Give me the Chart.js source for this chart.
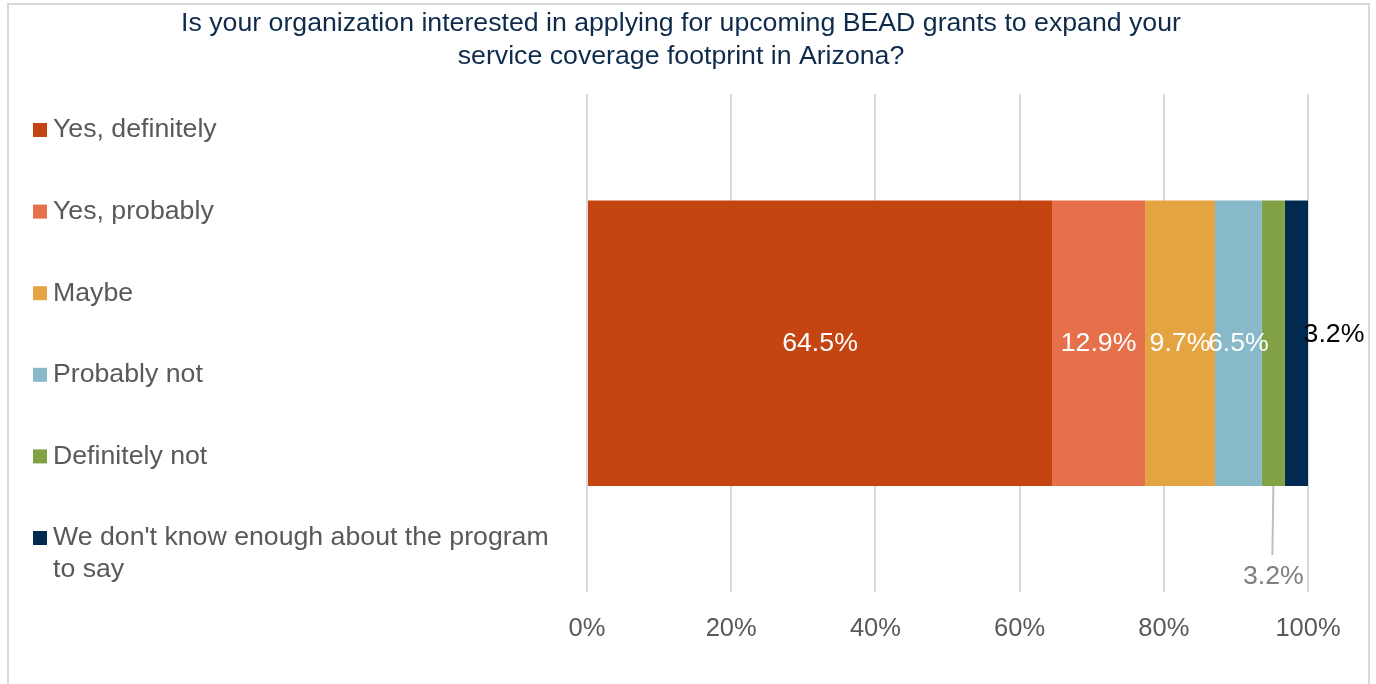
<!DOCTYPE html>
<html>
<head>
<meta charset="utf-8">
<title>BEAD grants interest</title>
<script src="https://cdn.jsdelivr.net/npm/chart.js@4"></script>
<style>
  html, body { margin: 0; padding: 0; background: #fff; }
  #wrap { width: 1376px; height: 684px; position: relative; }
</style>
</head>
<body>
<div id="wrap"><canvas id="beadChart" width="1376" height="684"></canvas></div>
<script>
const titleLines = [
  'Is your organization interested in applying for upcoming BEAD grants to expand your',
  'service coverage footprint in Arizona?'
];
const answers = [
  'Yes, definitely',
  'Yes, probably',
  'Maybe',
  'Probably not',
  'Definitely not',
  "We don't know enough about the program to say"
];
const shares = [64.5, 12.9, 9.7, 6.5, 3.2, 3.2];
const colors = ['#c44512', '#e6704a', '#e4a442', '#88b9c8', '#82a044', '#002a4f'];
const xTicks = [0, 20, 40, 60, 80, 100];

const FONT = '"Liberation Sans", Arial, sans-serif';

// title, frame and the wrapped legend on the left
const sideText = {
  id: 'sideText',
  afterDraw(chart) {
    const ctx = chart.ctx;
    ctx.save();
    ctx.strokeStyle = '#d9d9d9';
    ctx.lineWidth = 2;
    ctx.strokeRect(8, 4, 1361, 700);

    ctx.fillStyle = '#0f2b4c';
    ctx.font = '26.7px ' + FONT;
    ctx.textAlign = 'center';
    ctx.textBaseline = 'middle';
    titleLines.forEach((line, i) => ctx.fillText(line, 681, 24 + i * 33));

    ctx.textAlign = 'left';
    const rows = [[answers[0]], [answers[1]], [answers[2]], [answers[3]], [answers[4]],
      ["We don't know enough about the program", 'to say']];
    rows.forEach((lines, i) => {
      const y = 130 + i * 81.6;
      ctx.fillStyle = colors[i];
      ctx.fillRect(33, y - 7, 14, 14);
      ctx.fillStyle = '#595959';
      lines.forEach((t, j) => ctx.fillText(t, 53, y + j * 32));
    });
    ctx.restore();
  }
};

// percentage labels on the bar segments
const segmentLabels = {
  id: 'segmentLabels',
  afterDatasetsDraw(chart) {
    const ctx = chart.ctx;
    ctx.save();
    ctx.font = '26.7px ' + FONT;
    ctx.textAlign = 'center';
    ctx.textBaseline = 'middle';
    chart.data.datasets.forEach((ds, i) => {
      const bar = chart.getDatasetMeta(i).data[0];
      const text = ds.data[0].toFixed(1) + '%';
      const cx = (bar.base + bar.x) / 2;
      if (i === 4) {
        // pulled below the bar with a leader line
        ctx.strokeStyle = '#bfbfbf';
        ctx.lineWidth = 2;
        ctx.beginPath();
        ctx.moveTo(cx, bar.y + bar.height / 2);
        ctx.lineTo(cx - 1, bar.y + bar.height / 2 + 69);
        ctx.stroke();
        ctx.fillStyle = '#7f7f7f';
        ctx.fillText(text, cx, bar.y + 233);
      } else if (i === 5) {
        ctx.fillStyle = '#000';
        ctx.fillText(text, bar.x + 26, bar.y - 9);
      } else {
        ctx.fillStyle = '#fff';
        ctx.fillText(text, cx, bar.y);
      }
    });
    ctx.restore();
  }
};

new Chart(document.getElementById('beadChart'), {
  type: 'bar',
  data: {
    labels: [''],
    datasets: answers.map((a, i) => ({
      label: a,
      data: [shares[i]],
      backgroundColor: colors[i],
      borderWidth: 0,
      categoryPercentage: 1,
      barPercentage: 0.573
    }))
  },
  options: {
    indexAxis: 'y',
    responsive: false,
    animation: false,
    layout: { padding: { left: 587, right: 68, top: 94, bottom: 19 } },
    plugins: {
      legend: { display: false },
      title: { display: false },
      tooltip: { enabled: false }
    },
    scales: {
      x: {
        stacked: true,
        min: 0,
        max: 100,
        afterBuildTicks(axis) { axis.ticks = xTicks.map(v => ({ value: v })); },
        grid: { color: '#d9d9d9', lineWidth: 2, drawTicks: false },
        border: { display: false },
        ticks: {
          padding: 21,
          color: '#595959',
          font: { family: FONT, size: 25.5 },
          callback: v => v + '%'
        }
      },
      y: {
        stacked: true,
        display: false
      }
    }
  },
  plugins: [segmentLabels, sideText]
});
</script>
</body>
</html>
